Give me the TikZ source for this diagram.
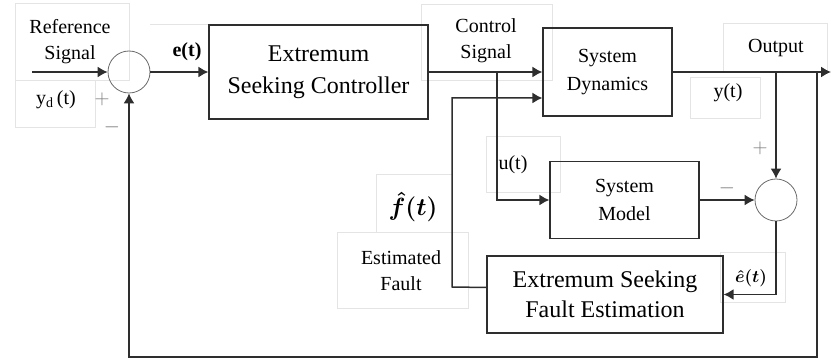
\documentclass[tikz,border=0pt]{standalone}
\usepackage{fontspec}
\setmainfont{Liberation Serif}
\newfontfamily\bdserif{Liberation Serif}
\usetikzlibrary{arrows.meta}
\definecolor{bdline}{HTML}{2E2E2E}
\definecolor{bdsum}{HTML}{6A6A6A}
\definecolor{bdsign}{HTML}{7A7A7A}
\definecolor{bdghost}{HTML}{E4E4E4}

\begin{document}
\begin{tikzpicture}[x=1pt, y=-1pt,
    blk/.style={draw=bdline, line width=1.2pt, align=center, inner sep=0pt,
                font=\bdserif\fontsize{20}{28}\selectfont},
    sumnode/.style={draw=bdsum, circle, line width=0.8pt, minimum size=42pt,
                inner sep=0pt},
    sig/.style={bdline, line width=1.5pt, -{Latex[length=10pt, width=11pt]}},
    ghost/.style={draw=bdghost, line width=0.7pt},
    lbl/.style={align=center, inner sep=0pt,
                font=\bdserif\fontsize{20}{26}\selectfont},
    sign/.style={text=bdsign, inner sep=0pt, font=\fontsize{22}{22}\selectfont}]

\useasboundingbox (0,0) rectangle (831,358);

% --- faint text-box frames left over from the source ----------------------
\foreach \ax/\ay/\bx/\by in {15/3/129/80, 15/80/95/127, 421/4/552/80,
    486/136/560/192, 376/174/452/232, 337/232/468/308, 723/23/827/72,
    690/77/760/118, 720/252/785/302}
{
  \path[ghost] (\ax,\ay) rectangle (\bx,\by);
}
\path[ghost] (150,24) -- (209,24);

% --- blocks and summing junctions ------------------------------------------
\node[sumnode] (sum1) at (129,72) {};
\node[blk, minimum width=219pt, minimum height=94pt,
      font=\bdserif\fontsize{24}{32}\selectfont] (esc) at (318.5,72)
      {Extremum\\Seeking Controller};
\node[blk, minimum width=129pt, minimum height=88pt] (sd) at (607.5,72)
      {System\\Dynamics};
\node[blk, minimum width=149pt, minimum height=77pt] (sm) at (624.5,200)
      {System\\Model};
\node[sumnode] (sum2) at (776,200) {};
\node[blk, minimum width=236pt, minimum height=77pt,
      font=\bdserif\fontsize{24}{30}\selectfont] (esfe) at (605,294.5)
      {Extremum Seeking\\Fault Estimation};

% --- branch points and free ends -------------------------------------------
\coordinate (ref)  at (32,72);
\coordinate (ubr)  at (497,72);
\coordinate (yout) at (831,72);
\coordinate (ybr)  at (776,72);
\coordinate (fbr)  at (817,72);
\coordinate (fbot) at (817,357);
\coordinate (fhat) at (452,287);

% --- signal lines ----------------------------------------------------------
\draw[sig] (ref) -- (sum1.west);
\draw[sig] (sum1.east) -- (esc.west);
\draw[sig] (esc.east) -- (sd.west);
\draw[sig] (ubr) |- (sm.west);
\draw[sig] (sd.east) -- (yout);
\draw[sig] (ybr) -- (sum2.north);
\draw[sig] (sm.east) -- (sum2.west);
\draw[sig] (sum2.south) |- (esfe.east);
\draw[sig] ([yshift=7pt]esfe.west) -- (fhat) |- ([yshift=-26pt]sd.west);
\draw[sig] (fbr) -- (fbot) -| (sum1.south);

% --- labels -- name/x/y/text ----------------------------------------------
\foreach \lname/\lx/\ly/\ltext in {%
    lref/70/42/{Reference\\Signal},
    lyd/56/100/{y\textsubscript{d}\,(t)},
    lerr/187/52/{\textbf{e(t)}},
    lctrl/486/41/{Control\\Signal},
    lout/776/48/{Output},
    ly/728/93/{y(t)},
    lu/513/165/{u(t)},
    lfhat/413/207/{{\fontsize{24}{24}\selectfont\boldmath$\hat{f}(t)$}},
    lest/401/271/{Estimated\\Fault},
    lehat/751/278/{{\fontsize{19}{19}\selectfont\boldmath$\hat{e}(t)$}}}
{
  \node[lbl, name=\lname] at (\lx,\ly) {\ltext};
}

% --- signs at the summing junctions ---------------------------------------
\foreach \lname/\lx/\ly/\ltext in {%
    s1p/102/99/{$+$}, s1m/112/127/{$-$},
    s2p/760/148/{$+$}, s2m/727/188/{$-$}}
{
  \node[sign, name=\lname] at (\lx,\ly) {\ltext};
}
\end{tikzpicture}
\end{document}
